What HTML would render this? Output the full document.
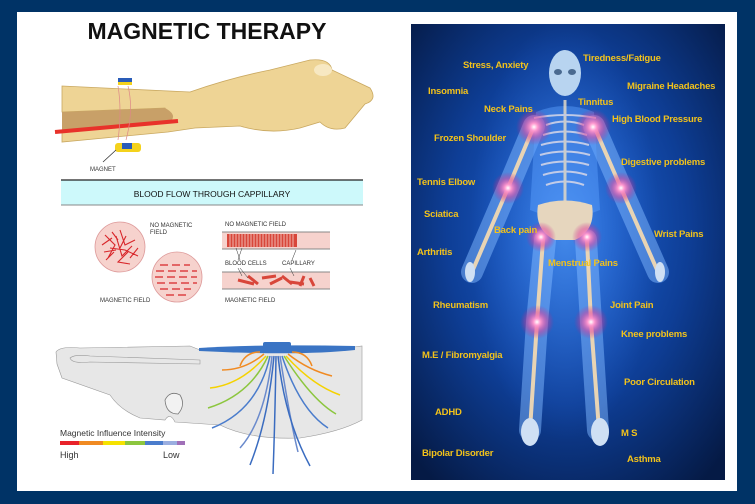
<!DOCTYPE html>
<html><head><meta charset="utf-8"><style>
html,body{margin:0;padding:0;background:#003366;}
svg{display:block}
.y{font-family:"Liberation Sans",sans-serif;font-weight:bold;font-size:9.5px;fill:#f2c21b;letter-spacing:-0.2px}
.s{font-family:"Liberation Sans",sans-serif;font-size:6px;fill:#333}
</style></head><body>
<svg width="755" height="504" viewBox="0 0 755 504" xmlns="http://www.w3.org/2000/svg">
<defs>
<radialGradient id="bg" cx="0.5" cy="0.45" r="0.7">
<stop offset="0" stop-color="#1f66d8"/><stop offset="0.55" stop-color="#0e3e96"/><stop offset="1" stop-color="#051a45"/>
</radialGradient>
<radialGradient id="gl" cx="0.5" cy="0.5" r="0.5">
<stop offset="0" stop-color="#fff"/><stop offset="0.2" stop-color="#ff9ad0"/><stop offset="0.6" stop-color="#e0409a" stop-opacity="0.5"/><stop offset="1" stop-color="#c02080" stop-opacity="0"/>
</radialGradient>
<radialGradient id="body" cx="0.5" cy="0.5" r="0.5">
<stop offset="0" stop-color="#6ab0ff" stop-opacity="0.5"/><stop offset="1" stop-color="#3a80ff" stop-opacity="0"/>
</radialGradient>
</defs>
<rect width="755" height="504" fill="#003366"/>
<rect x="17" y="12" width="720" height="479" fill="#fff"/>

<!-- LEFT -->
<text x="207" y="39" text-anchor="middle" font-family="Liberation Sans,sans-serif" font-weight="bold" font-size="23" fill="#111">MAGNETIC THERAPY</text>
<!-- arm -->
<path d="M62,86 L190,92 Q230,78 270,70 L310,60 Q330,58 332,70 L370,88 Q378,100 365,104 L345,128 Q330,132 320,122 L300,128 Q270,135 240,126 L195,128 L168,132 L62,142 L62,130 L120,126 L170,120 L165,108 L62,112 Z" fill="#eed495" stroke="#c9a860" stroke-width="0.8"/>
<path d="M62,112 L165,108 Q178,115 170,122 L62,132 Z" fill="#c8a068"/>
<ellipse cx="323" cy="70" rx="9" ry="6" fill="#f7e8c2"/>
<path d="M55,132 L178,121" stroke="#e8322a" stroke-width="4"/>
<path d="M118,86 Q122,110 118,140 M128,86 Q134,110 126,140" stroke="#d88" stroke-width="0.7" fill="none"/>
<rect x="118" y="78" width="14" height="7" fill="#2a5cb8"/><rect x="118" y="82" width="14" height="3" fill="#f4d21c"/>
<rect x="115" y="143" width="26" height="9" rx="3" fill="#f4d21c"/><rect x="122" y="143" width="10" height="6" fill="#2a5cb8"/>
<line x1="103" y1="162" x2="116" y2="150" stroke="#333" stroke-width="0.8"/>
<text x="90" y="171" class="s" font-size="5">MAGNET</text>
<!-- banner -->
<rect x="61" y="180" width="302" height="25" fill="#cdf9fb"/>
<line x1="61" y1="180" x2="363" y2="180" stroke="#222" stroke-width="1.2"/>
<line x1="61" y1="205" x2="363" y2="205" stroke="#888" stroke-width="1"/>
<text x="212" y="197" text-anchor="middle" font-family="Liberation Sans,sans-serif" font-size="8.5" fill="#111">BLOOD FLOW THROUGH CAPPILLARY</text>
<!-- cells -->
<circle cx="120" cy="247" r="25" fill="#f6d2cd" stroke="#d99" stroke-width="0.8"/>
<g stroke="#d8262a" stroke-width="1.1" fill="none">
<path d="M105,235 L115,245 L108,258 M120,230 L125,245 L135,240 M128,252 L118,262 L130,264 M110,248 L125,250 L138,256 M102,245 L112,238 M116,236 L122,256 L132,246 M106,260 L114,252 M112,232 L118,240 M126,236 L120,248 M104,252 L116,250 M130,258 L138,248"/>
</g>
<circle cx="177" cy="277" r="25" fill="#f6d2cd" stroke="#d99" stroke-width="0.8"/>
<g stroke="#d8262a" stroke-width="1.3">
<path d="M160,265h8M172,265h8M184,265h6M156,271h8M168,271h8M180,271h8M192,271h5M155,277h8M167,277h8M179,277h8M191,277h6M157,283h8M169,283h8M181,283h8M193,283h4M160,289h8M172,289h8M184,289h7M166,295h8M178,295h8"/>
</g>
<text x="150" y="227" class="s">NO MAGNETIC</text><text x="150" y="234" class="s">FIELD</text>
<text x="100" y="302" class="s">MAGNETIC FIELD</text>
<rect x="222" y="232" width="108" height="17" fill="#f6d2cd"/>
<line x1="222" y1="232" x2="330" y2="232" stroke="#888"/><line x1="222" y1="249" x2="330" y2="249" stroke="#888"/>
<g fill="#d8463a"><rect x="227" y="234" width="22" height="13"/><rect x="249" y="234" width="22" height="13"/><rect x="271" y="234" width="26" height="13"/></g>
<g stroke="#f6d2cd" stroke-width="0.8"><path d="M230,234v13M233,234v13M236,234v13M239,234v13M242,234v13M245,234v13M248,234v13M251,234v13M254,234v13M257,234v13M260,234v13M263,234v13M266,234v13M269,234v13M272,234v13M275,234v13M278,234v13M281,234v13M284,234v13M287,234v13M290,234v13M293,234v13"/></g>
<rect x="222" y="272" width="108" height="17" fill="#f6d2cd"/>
<line x1="222" y1="272" x2="330" y2="272" stroke="#888"/><line x1="222" y1="289" x2="330" y2="289" stroke="#888"/>
<g stroke="#d8463a" stroke-width="3"><path d="M238,280l16,4M248,276l10,8M262,278l14,-2M270,284l12,-6M282,276l10,8M290,282l14,2M304,276l-4,10M310,278l4,8"/></g>
<text x="225" y="226" class="s">NO MAGNETIC FIELD</text>
<text x="225" y="265" class="s" font-size="5">BLOOD CELLS</text><text x="282" y="265" class="s" font-size="5">CAPILLARY</text>
<text x="225" y="302" class="s">MAGNETIC FIELD</text>
<g stroke="#333" stroke-width="0.5"><path d="M238,260l4,-12M240,260l-4,-12M292,260l4,-10M238,268l4,8M240,268l8,10M290,268l4,8"/></g>
<!-- bottom hand -->
<path d="M56,352 Q60,346 80,348 L190,346 L200,350 L340,349 L362,346 L362,420 Q340,432 300,438 Q250,440 220,425 L175,422 Q170,412 165,420 L140,418 Q120,410 110,395 L62,378 L57,364 Z" fill="#e7e7e7" stroke="#999" stroke-width="0.6"/>
<path d="M70,358 Q75,354 90,356 L200,360 L200,364 L90,362 Q72,364 70,358 Z" fill="none" stroke="#999" stroke-width="0.6"/>
<path d="M165,400 Q170,390 180,395 Q186,405 178,414 Q166,414 165,400 Z" fill="#f2f2f2" stroke="#777" stroke-width="0.8"/>
<path d="M199,348 Q260,344 355,346 L355,350 Q300,356 199,351 Z" fill="#3a74c4"/>
<rect x="263" y="342" width="28" height="9" rx="2" fill="#3a74c4"/>
<g fill="none" stroke-width="1.5">
<path d="M260,352 Q245,352 240,366" stroke="#f08a22"/><path d="M292,352 Q307,352 312,366" stroke="#f08a22"/>
<path d="M264,354 Q245,370 222,370" stroke="#f08a22"/><path d="M288,354 Q308,370 332,376" stroke="#f08a22"/>
<path d="M266,356 Q240,385 210,388" stroke="#f5d200"/><path d="M286,356 Q312,385 340,395" stroke="#f5d200"/>
<path d="M268,356 Q250,395 208,408" stroke="#8cc63e"/><path d="M284,356 Q312,400 336,414" stroke="#8cc63e"/>
<path d="M270,356 Q258,410 212,428" stroke="#4a7ccc"/><path d="M282,356 Q300,410 328,428" stroke="#4a7ccc"/>
<path d="M272,356 Q265,420 240,448" stroke="#6a8acc"/><path d="M280,356 Q290,420 298,452" stroke="#6a8acc"/>
<path d="M276,356 Q275,420 273,474" stroke="#3a6cc0"/><path d="M278,356 Q285,420 310,466" stroke="#3a6cc0"/>
<path d="M274,356 Q268,420 250,465" stroke="#3a6cc0"/>
</g>
<text x="60" y="436" font-family="Liberation Sans,sans-serif" font-size="8.5" fill="#333">Magnetic Influence Intensity</text>
<g><rect x="60" y="441" width="19" height="4" fill="#e8222a"/><rect x="79" y="441" width="24" height="4" fill="#f08a22"/><rect x="103" y="441" width="22" height="4" fill="#f5e200"/><rect x="125" y="441" width="20" height="4" fill="#8cc63e"/><rect x="145" y="441" width="18" height="4" fill="#4a7ccc"/><rect x="163" y="441" width="14" height="4" fill="#9aaee0"/><rect x="177" y="441" width="8" height="4" fill="#a070b8"/></g>
<text x="60" y="458" font-family="Liberation Sans,sans-serif" font-size="9" fill="#333">High</text>
<text x="163" y="458" font-family="Liberation Sans,sans-serif" font-size="9" fill="#333">Low</text>

<!-- RIGHT -->
<rect x="411" y="24" width="314" height="456" fill="url(#bg)"/>
<ellipse cx="565" cy="230" rx="95" ry="210" fill="url(#body)"/>
<g stroke="#7fb8ff" stroke-opacity="0.5" stroke-width="22" stroke-linecap="round" fill="none">
<path d="M534,126 L508,188 L472,272"/><path d="M594,126 L621,188 L658,272"/>
<path d="M545,240 L537,322 L530,430"/><path d="M586,240 L591,322 L598,430"/>
</g>
<path d="M536,112 Q565,100 594,112 L600,210 Q565,225 530,210 Z" fill="#5aa0ff" fill-opacity="0.45"/>
<g stroke="#e8d4b4" stroke-width="4" stroke-linecap="round" fill="none">
<path d="M534,126 L508,188 L472,272"/><path d="M594,126 L621,188 L658,272"/>
<path d="M543,240 L537,322 L530,430"/><path d="M587,240 L591,322 L599,430"/>
</g>
<g stroke="#d8d8e8" stroke-width="2" fill="none" opacity="0.85">
<path d="M546,125 Q565,118 584,125 M543,135 Q565,128 587,135 M541,145 Q565,138 589,145 M540,155 Q565,148 590,155 M541,165 Q565,158 589,165 M543,175 Q565,168 587,175 M546,185 Q565,178 584,185"/>
<path d="M565,100 L565,205" stroke-width="3" stroke="#e0d8c8"/>
<path d="M534,118 Q565,112 596,118"/>
</g>
<path d="M538,205 Q565,196 592,205 Q596,230 575,240 L555,240 Q534,230 538,205 Z" fill="#e6d6be"/>
<ellipse cx="565" cy="73" rx="16" ry="23" fill="#b8d4f0"/>
<ellipse cx="558" cy="72" rx="4" ry="3" fill="#4a6a90"/><ellipse cx="572" cy="72" rx="4" ry="3" fill="#4a6a90"/>
<g fill="#cfe0f4"><ellipse cx="530" cy="432" rx="9" ry="14"/><ellipse cx="600" cy="432" rx="9" ry="14"/><ellipse cx="470" cy="272" rx="5" ry="10"/><ellipse cx="660" cy="272" rx="5" ry="10"/></g>
<g fill="url(#gl)">
<circle cx="534" cy="127" r="18"/><circle cx="593" cy="127" r="18"/>
<circle cx="508" cy="188" r="16"/><circle cx="621" cy="188" r="16"/>
<circle cx="541" cy="237" r="15"/><circle cx="587" cy="237" r="15"/>
<circle cx="537" cy="322" r="17"/><circle cx="591" cy="322" r="17"/>
</g>
<g class="y">
<text x="463" y="68" class="y">Stress, Anxiety</text>
<text x="583" y="61" class="y">Tiredness/Fatigue</text>
<text x="428" y="94" class="y">Insomnia</text>
<text x="627" y="89" class="y">Migraine Headaches</text>
<text x="484" y="112" class="y">Neck Pains</text>
<text x="578" y="105" class="y">Tinnitus</text>
<text x="612" y="122" class="y">High Blood Pressure</text>
<text x="434" y="141" class="y">Frozen Shoulder</text>
<text x="621" y="165" class="y">Digestive problems</text>
<text x="417" y="185" class="y">Tennis Elbow</text>
<text x="424" y="217" class="y">Sciatica</text>
<text x="494" y="233" class="y">Back pain</text>
<text x="654" y="237" class="y">Wrist Pains</text>
<text x="417" y="255" class="y">Arthritis</text>
<text x="548" y="266" class="y">Menstrual Pains</text>
<text x="433" y="308" class="y">Rheumatism</text>
<text x="610" y="308" class="y">Joint Pain</text>
<text x="621" y="337" class="y">Knee problems</text>
<text x="422" y="358" class="y">M.E / Fibromyalgia</text>
<text x="624" y="385" class="y">Poor Circulation</text>
<text x="435" y="415" class="y">ADHD</text>
<text x="621" y="436" class="y">M S</text>
<text x="422" y="456" class="y">Bipolar Disorder</text>
<text x="627" y="462" class="y">Asthma</text>
</g>
</svg>
</body></html>
